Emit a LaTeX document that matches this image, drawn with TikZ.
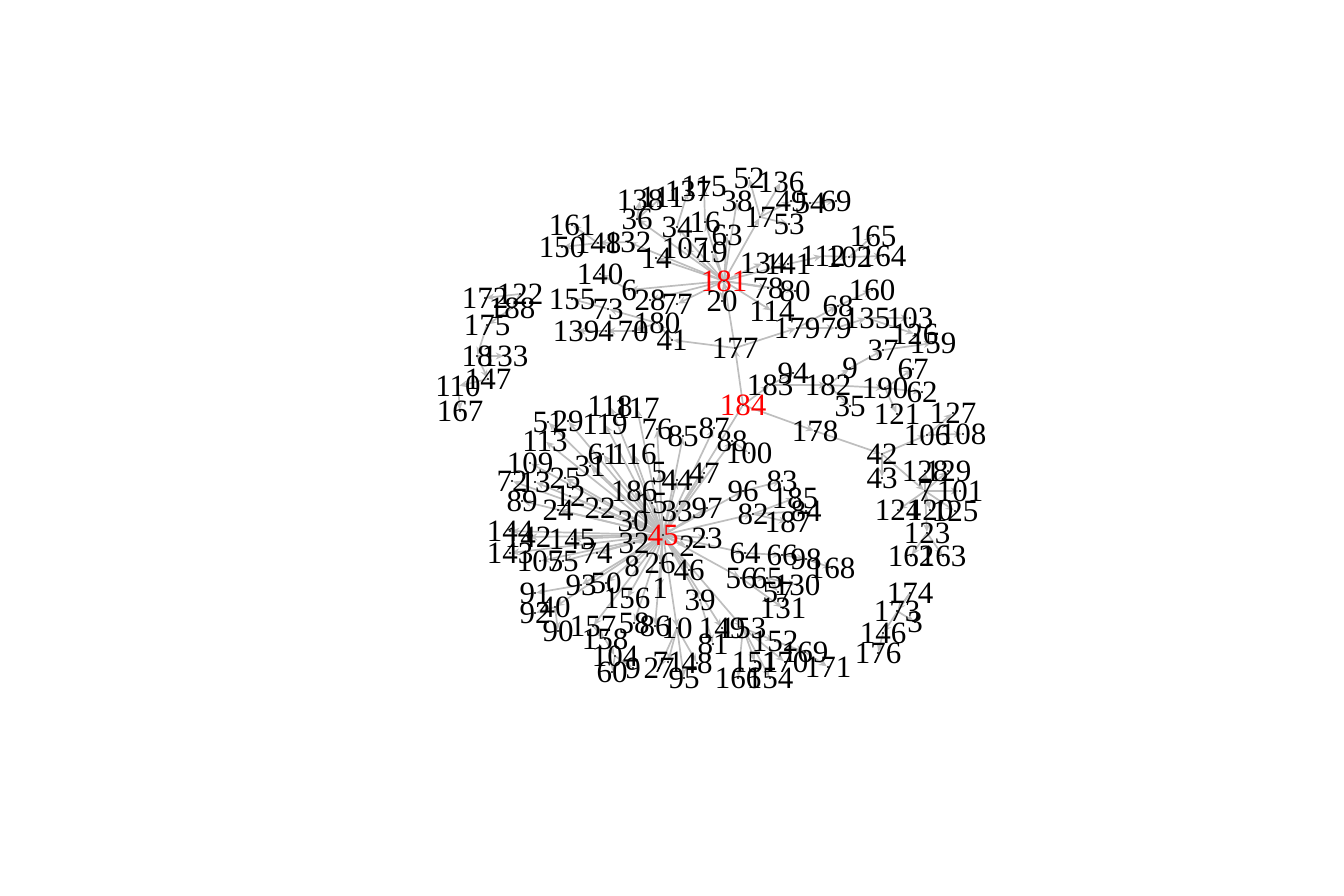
\documentclass[tikz,border=0pt]{standalone}
\usepackage{fontspec}
\setmainfont{Liberation Serif}
\usetikzlibrary{arrows.meta}
\pgfdeclarelayer{bg}
\pgfsetlayers{bg,main}
\definecolor{edgegray}{RGB}{190,190,190}
\newcommand{\lf}{\fontsize{31}{32}\selectfont}
\newcommand{\vx}[4]{\node[vdot] (#1) at (#2,#3) {}; \node[lab] at (#2,#3) {#4};}
\newcommand{\vxr}[4]{\node[vdot] (#1) at (#2,#3) {}; \node[lab,text=red] at (#2,#3) {#4};}
\tikzset{
  vdot/.style={circle,fill=black,inner sep=0pt,minimum size=2.2pt},
  lab/.style={font=\lf,text=black,inner sep=0pt},
  edg/.style={draw=edgegray,line width=1.7pt,-{Stealth[length=8pt,width=7pt]}}
}
\begin{document}
\begin{tikzpicture}[x=1pt,y=-1pt]
\useasboundingbox (0,0) rectangle (1344,895);
% top cluster
\vxr{v181}{724}{281}{181}
\vx{v20}{722}{301}{20}
\vx{v177}{735}{348}{177}
\vx{v14}{656}{258}{14}
\vx{v107}{685}{248}{107}
\vx{v19}{712}{252}{19}
\vx{v16}{705}{222}{16}
\vx{v63}{727}{235}{63}
\vx{v34}{677}{227}{34}
\vx{v36}{637}{219}{36}
\vx{v132}{628}{242}{132}
\vx{v148}{598}{243}{148}
\vx{v161}{572}{225}{161}
\vx{v150}{562}{247}{150}
\vx{v138}{640}{200}{138}
\vx{v111}{662}{197}{111}
\vx{v137}{688}{191}{137}
\vx{v115}{704}{186}{115}
\vx{v38}{737}{201}{38}
\vx{v52}{749}{178}{52}
\vx{v136}{781}{182}{136}
\vx{v49}{791}{201}{49}
\vx{v54}{810}{203}{54}
\vx{v69}{836}{201}{69}
\vx{v17}{760}{217}{17}
\vx{v53}{789}{224}{53}
\vx{v134}{763}{263}{134}
\vx{v141}{788}{264}{141}
\vx{v112}{823}{256}{112}
\vx{v102}{849}{257}{102}
\vx{v164}{883}{256}{164}
\vx{v165}{873}{236}{165}
\vx{v78}{768}{288}{78}
\vx{v80}{795}{291}{80}
\vx{v114}{772}{311}{114}
\vx{v179}{797}{328}{179}
\vx{v79}{836}{328}{79}
\vx{v68}{838}{306}{68}
\vx{v160}{872}{290}{160}
\vx{v135}{867}{318}{135}
\vx{v103}{910}{318}{103}
\vx{v126}{915}{334}{126}
\vx{v37}{883}{350}{37}
\vx{v159}{933}{343}{159}
\vx{v67}{913}{369}{67}
\vx{v6}{629}{290}{6}
\vx{v28}{650}{300}{28}
\vx{v77}{677}{304}{77}
\vx{v180}{657}{323}{180}
\vx{v41}{672}{340}{41}
\vx{v140}{600}{274}{140}
\vx{v155}{572}{299}{155}
\vx{v73}{608}{309}{73}
\vx{v139}{576}{331}{139}
\vx{v4}{606}{331}{4}
\vx{v70}{633}{331}{70}
% right side
\vxr{v184}{743}{405}{184}
\vx{v183}{770}{385}{183}
\vx{v94}{793}{373}{94}
\vx{v182}{828}{385}{182}
\vx{v9}{850}{368}{9}
\vx{v35}{850}{406}{35}
\vx{v190}{885}{388}{190}
\vx{v62}{922}{392}{62}
\vx{v121}{897}{414}{121}
\vx{v127}{953}{413}{127}
\vx{v106}{927}{435}{106}
\vx{v108}{963}{434}{108}
\vx{v178}{815}{431}{178}
\vx{v42}{882}{454}{42}
\vx{v43}{882}{478}{43}
\vx{v128}{925}{471}{128}
\vx{v129}{948}{471}{129}
\vx{v7}{925}{491}{7}
\vx{v101}{960}{491}{101}
\vx{v124}{898}{510}{124}
\vx{v120}{930}{510}{120}
\vx{v125}{955}{511}{125}
\vx{v123}{927}{533}{123}
\vx{v162}{911}{556}{162}
\vx{v163}{943}{556}{163}
\vx{v174}{910}{593}{174}
\vx{v173}{897}{611}{173}
\vx{v3}{915}{622}{3}
\vx{v146}{883}{633}{146}
\vx{v176}{878}{653}{176}
% left component
\vx{v172}{485}{298}{172}
\vx{v122}{520}{294}{122}
\vx{v188}{512}{308}{188}
\vx{v175}{487}{325}{175}
\vx{v18}{477}{356}{18}
\vx{v133}{505}{356}{133}
\vx{v110}{458}{386}{110}
\vx{v147}{488}{379}{147}
\vx{v167}{460}{411}{167}
% 45 cluster
\vxr{v45}{663}{535}{45}
\vx{v118}{610}{406}{118}
\vx{v117}{637}{408}{117}
\vx{v51}{548}{422}{51}
\vx{v29}{568}{421}{29}
\vx{v119}{605}{424}{119}
\vx{v113}{545}{441}{113}
\vx{v61}{603}{454}{61}
\vx{v116}{634}{454}{116}
\vx{v31}{590}{466}{31}
\vx{v109}{530}{463}{109}
\vx{v72}{512}{481}{72}
\vx{v13}{535}{482}{13}
\vx{v25}{565}{478}{25}
\vx{v89}{522}{501}{89}
\vx{v12}{570}{496}{12}
\vx{v24}{558}{510}{24}
\vx{v22}{600}{508}{22}
\vx{v186}{634}{491}{186}
\vx{v5}{659}{472}{5}
\vx{v44}{677}{480}{44}
\vx{v47}{704}{473}{47}
\vx{v76}{657}{429}{76}
\vx{v85}{683}{436}{85}
\vx{v87}{714}{428}{87}
\vx{v88}{732}{441}{88}
\vx{v100}{749}{453}{100}
\vx{v15}{652}{503}{15}
\vx{v33}{677}{511}{33}
\vx{v97}{707}{508}{97}
\vx{v96}{743}{491}{96}
\vx{v83}{782}{481}{83}
\vx{v185}{795}{498}{185}
\vx{v84}{806}{511}{84}
\vx{v187}{788}{522}{187}
\vx{v82}{753}{514}{82}
\vx{v30}{633}{521}{30}
\vx{v32}{634}{543}{32}
\vx{v23}{707}{538}{23}
\vx{v2}{687}{546}{2}
\vx{v144}{510}{531}{144}
\vx{v142}{528}{537}{142}
\vx{v145}{572}{539}{145}
\vx{v74}{597}{553}{74}
\vx{v143}{510}{553}{143}
\vx{v105}{540}{561}{105}
\vx{v75}{563}{561}{75}
\vx{v8}{632}{566}{8}
\vx{v26}{660}{563}{26}
\vx{v46}{689}{570}{46}
\vx{v64}{745}{553}{64}
\vx{v66}{782}{555}{66}
\vx{v98}{806}{559}{98}
\vx{v168}{832}{568}{168}
\vx{v56}{741}{578}{56}
\vx{v65}{767}{578}{65}
\vx{v130}{797}{585}{130}
\vx{v57}{778}{592}{57}
\vx{v131}{783}{608}{131}
\vx{v1}{660}{588}{1}
\vx{v39}{700}{600}{39}
\vx{v91}{535}{593}{91}
\vx{v93}{581}{585}{93}
\vx{v50}{606}{583}{50}
\vx{v156}{627}{598}{156}
\vx{v92}{535}{613}{92}
\vx{v40}{555}{607}{40}
\vx{v90}{558}{631}{90}
\vx{v157}{593}{626}{157}
\vx{v158}{605}{639}{158}
\vx{v104}{615}{656}{104}
\vx{v60}{612}{672}{60}
\vx{v9b}{633}{668}{9}
\vx{v27}{659}{668}{27}
\vx{v58}{634}{623}{58}
\vx{v86}{655}{626}{86}
\vx{v10}{677}{628}{10}
\vx{v71}{668}{662}{71}
\vx{v48}{697}{663}{48}
\vx{v95}{684}{678}{95}
\vx{v149}{722}{628}{149}
\vx{v153}{743}{628}{153}
\vx{v81}{713}{644}{81}
\vx{v152}{775}{641}{152}
\vx{v169}{805}{652}{169}
\vx{v151}{755}{662}{151}
\vx{v170}{785}{662}{170}
\vx{v171}{828}{667}{171}
\vx{v166}{738}{678}{166}
\vx{v154}{770}{678}{154}
\begin{pgfonlayer}{bg}
\foreach \a/\b in {v184/v177,v177/v181,v181/v20,v181/v14,v181/v107,v181/v19,v181/v16,v181/v63,v181/v34,v181/v36,v181/v132,v181/v17,v181/v38,v181/v134,v181/v141,v181/v78,v181/v80,v181/v114,v181/v6,v181/v28,v181/v77,
  v132/v148,v148/v161,v148/v150,v36/v138,v36/v111,v34/v137,v16/v115,v17/v52,v17/v136,v17/v49,v17/v53,v49/v54,v54/v69,v141/v112,v112/v102,v102/v164,v102/v165,
  v177/v179,v179/v68,v68/v160,v179/v79,v79/v135,v135/v103,v135/v126,v9/v37,v37/v159,
  v177/v41,v41/v180,v180/v70,v70/v4,v4/v139,v180/v73,v73/v155,v6/v140,
  v184/v183,v183/v94,v183/v182,v182/v9,v182/v35,v182/v190,v190/v67,v190/v62,v190/v121,v184/v178,v178/v42,v42/v106,v106/v127,v106/v108,v42/v43,v42/v7,v7/v128,v7/v129,v7/v101,v7/v124,v7/v120,v7/v125,v7/v123,v123/v162,v123/v163,
  v174/v173,v174/v146,v146/v176,v173/v3,
  v122/v172,v122/v188,v188/v175,v175/v18,v18/v133,v18/v147,v147/v110,v110/v167,
  v184/v45,v45/v118,v45/v117,v45/v51,v45/v29,v45/v119,v45/v113,v45/v61,v45/v116,v45/v31,v45/v109,v45/v72,v45/v13,v45/v25,v45/v89,v45/v12,v45/v24,v45/v22,v45/v186,v45/v5,v45/v44,v45/v47,v45/v76,v45/v85,v45/v87,v45/v88,v88/v100,v45/v15,v45/v33,v45/v97,v45/v96,v96/v83,v45/v82,v82/v185,v82/v84,v82/v187,v45/v30,v45/v32,v45/v23,v45/v2,v45/v144,v45/v142,v45/v145,v45/v74,v45/v143,v45/v105,v45/v75,v45/v8,v45/v26,v45/v46,v45/v64,v64/v66,v66/v98,v98/v168,v45/v56,v56/v65,v65/v130,v65/v57,v56/v131,v45/v1,v45/v39,v39/v81,v45/v93,v93/v91,v45/v50,v45/v156,v45/v40,v40/v92,v40/v90,v45/v157,v157/v158,v158/v104,v104/v60,v104/v9b,v45/v58,v45/v86,v45/v10,v10/v27,v10/v71,v10/v48,v10/v95,v45/v149,v45/v153,v153/v152,v152/v169,v169/v171,v153/v170,v153/v151,v153/v154,v153/v166}
  \draw[edg] (\a) -- (\b);
\end{pgfonlayer}
\end{tikzpicture}
\end{document}
